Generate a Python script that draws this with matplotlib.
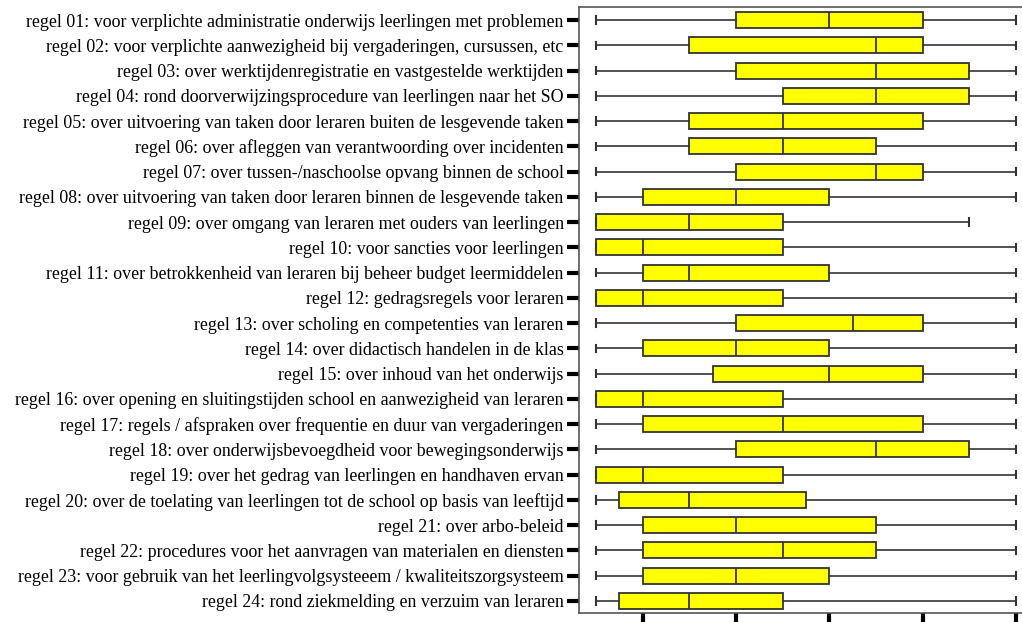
import matplotlib
matplotlib.use("Agg")
from matplotlib import pyplot as plt

labels = [
    "regel 01: voor verplichte administratie onderwijs leerlingen met problemen",
    "regel 02: voor verplichte aanwezigheid bij vergaderingen, cursussen, etc",
    "regel 03: over werktijdenregistratie en vastgestelde werktijden",
    "regel 04: rond doorverwijzingsprocedure van leerlingen naar het SO",
    "regel 05: over uitvoering van taken door leraren buiten de lesgevende taken",
    "regel 06: over afleggen van verantwoording over incidenten",
    "regel 07: over tussen-/naschoolse opvang binnen de school",
    "regel 08: over uitvoering van taken door leraren binnen de lesgevende taken",
    "regel 09: over omgang van leraren met ouders van leerlingen",
    "regel 10: voor sancties voor leerlingen",
    "regel 11: over betrokkenheid van leraren bij beheer budget leermiddelen",
    "regel 12: gedragsregels voor leraren",
    "regel 13: over scholing en competenties van leraren",
    "regel 14: over didactisch handelen in de klas",
    "regel 15: over inhoud van het onderwijs",
    "regel 16: over opening en sluitingstijden school en aanwezigheid van leraren",
    "regel 17: regels / afspraken over frequentie en duur van vergaderingen",
    "regel 18: over onderwijsbevoegdheid voor bewegingsonderwijs",
    "regel 19: over het gedrag van leerlingen en handhaven ervan",
    "regel 20: over de toelating van leerlingen tot de school op basis van leeftijd",
    "regel 21: over arbo-beleid",
    "regel 22: procedures voor het aanvragen van materialen en diensten",
    "regel 23: voor gebruik van het leerlingvolgsysteeem / kwaliteitszorgsysteem",
    "regel 24: rond ziekmelding en verzuim van leraren",
]

whis_lo = [1, 1, 1, 1, 1, 1, 1, 1, 1, 1, 1, 1, 1, 1, 1, 1, 1, 1, 1, 1, 1, 1, 1, 1]
q1 = [4, 3, 4, 5, 3, 3, 4, 2, 1, 1, 2, 1, 4, 2, 3.5, 1, 2, 4, 1, 1.5, 2, 2, 2, 1.5]
med = [6, 7, 7, 7, 5, 5, 7, 4, 3, 2, 3, 2, 6.5, 4, 6, 2, 5, 7, 2, 3, 4, 5, 4, 3]
q3 = [8, 8, 9, 9, 8, 7, 8, 6, 5, 5, 6, 5, 8, 6, 8, 5, 8, 9, 5, 5.5, 7, 7, 6, 5]
whis_hi = [10, 10, 10, 10, 10, 10, 10, 10, 9, 10, 10, 10, 10, 10, 10, 10, 10, 10, 10, 10, 10, 10, 10, 10]

stats = []
for i in range(len(labels)):
    stats.append({"whislo": whis_lo[i], "q1": q1[i], "med": med[i],
                  "q3": q3[i], "whishi": whis_hi[i], "fliers": []})

fig = plt.figure(figsize=(10.22, 6.22), dpi=100)
ax = fig.add_axes([579 / 1022, 9 / 622, 1 - 579 / 1022, 1 - 16 / 622])

positions = list(range(1, len(labels) + 1))
line = "#333333"
ax.bxp(stats, positions=positions, orientation="horizontal", widths=0.63,
       patch_artist=True, capwidths=0.3,
       boxprops=dict(facecolor="#ffff00", edgecolor=line, linewidth=1.3),
       medianprops=dict(color=line, linewidth=1.3),
       whiskerprops=dict(color=line, linewidth=1.2),
       capprops=dict(color=line, linewidth=1.5))

ax.set_xlim(1 - 17 / 46.7, 10 + 6 / 46.7)
ax.set_ylim(24.48, 0.48)
ax.set_xticks([2, 4, 6, 8, 10])
ax.set_xticklabels([])
ax.set_yticks(positions)
ax.set_yticklabels(labels, family="Liberation Serif", fontsize=12.9)
ax.tick_params(axis="y", length=9, width=3, color="black", pad=2)
ax.tick_params(axis="x", length=10, width=3, color="black")
ax.spines["right"].set_visible(False)
for s in ["left", "bottom", "top"]:
    ax.spines[s].set_color("#555555")
    ax.spines[s].set_linewidth(1.2)

fig.savefig("out.png", dpi=100)
